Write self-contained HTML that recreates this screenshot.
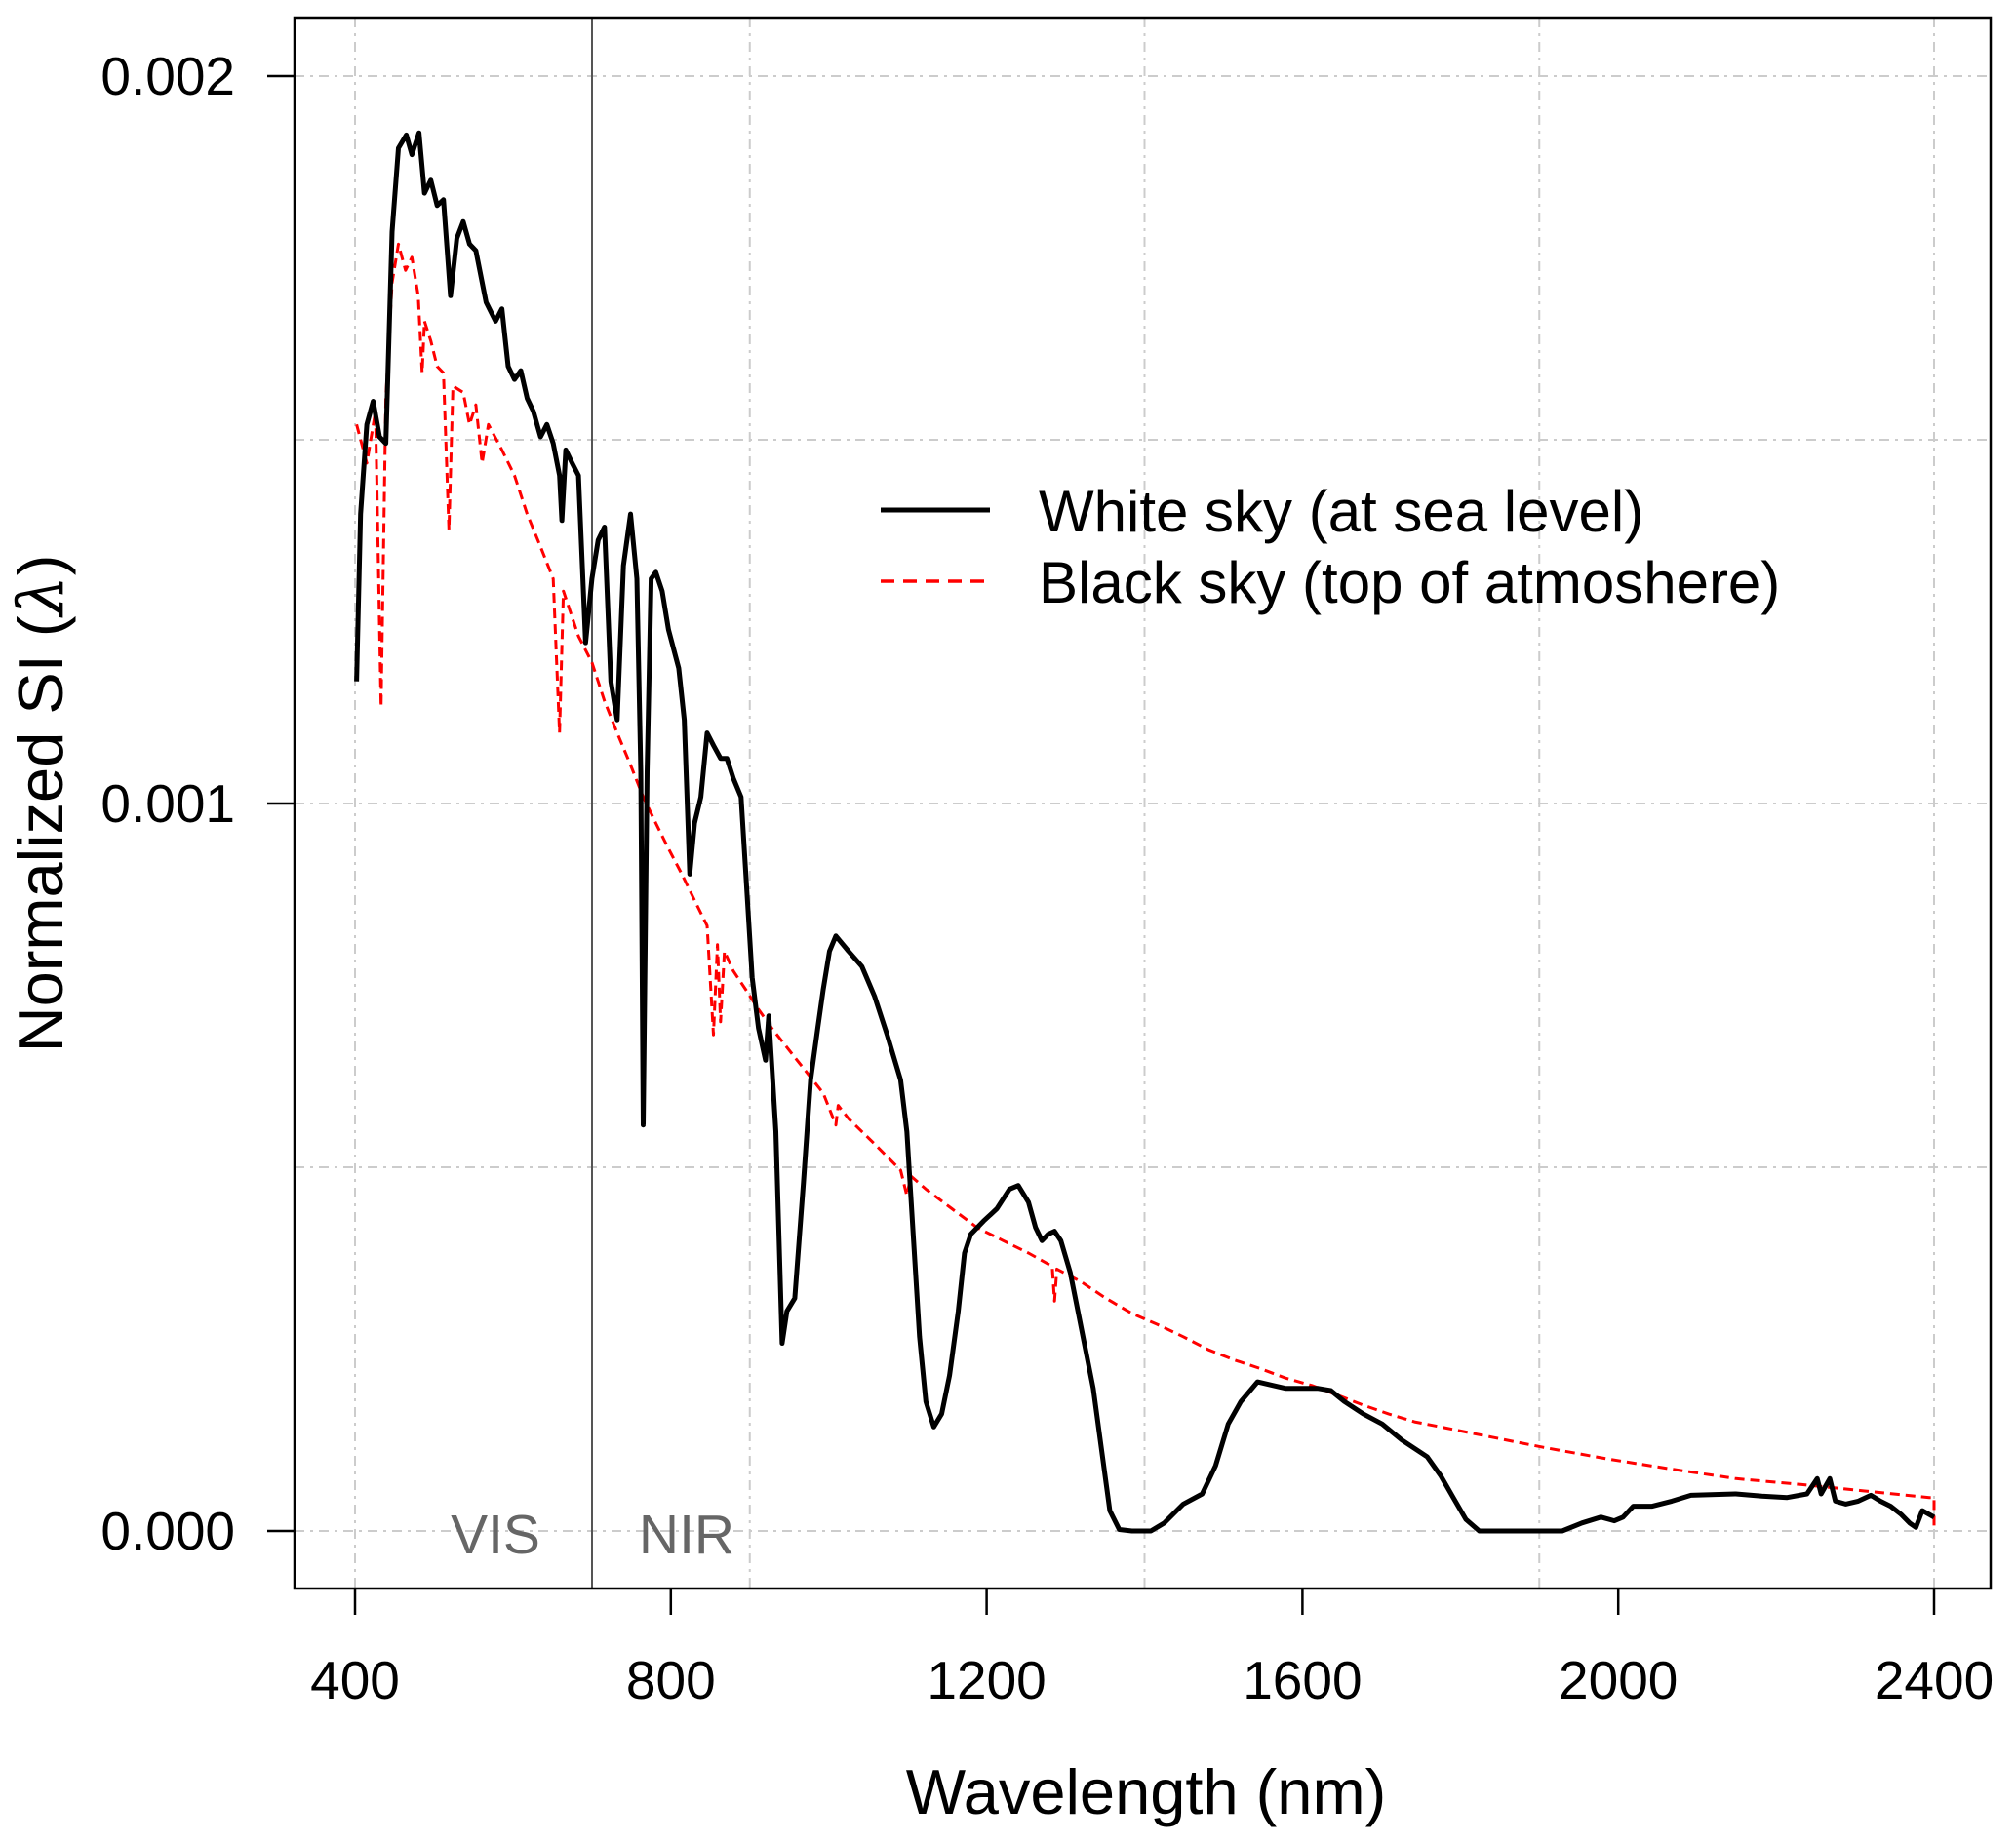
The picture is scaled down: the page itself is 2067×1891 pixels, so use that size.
<!DOCTYPE html>
<html><head><meta charset="utf-8"><style>
html,body{margin:0;padding:0;background:#fff;}
svg{display:block;font-family:"Liberation Sans",Arial,sans-serif;}
</style></head><body>
<svg id="chart" width="2067" height="1891" viewBox="0 0 2067 1891" xmlns="http://www.w3.org/2000/svg">
<rect width="2067" height="1891" fill="#fff"/>
<g id="grid"></g>
<line x1="607" y1="18" x2="607" y2="1629" stroke="#555" stroke-width="2"/>
<text x="508" y="1593" font-size="57" fill="#666" text-anchor="middle">VIS</text>
<text x="704" y="1593" font-size="57" fill="#666" text-anchor="middle">NIR</text>
<g id="series"></g>
<rect x="302" y="18" width="1739" height="1611" fill="none" stroke="#000" stroke-width="2.5"/>
<g id="axes"></g>
<text x="1175" y="1860" font-size="65" text-anchor="middle">Wavelength (nm)</text>
<text transform="translate(64,824) rotate(-90)" font-size="65" text-anchor="middle">Normalized SI (<tspan font-family="DejaVu Serif, serif" font-style="italic">λ</tspan>)</text>
<g>
<line x1="903" y1="523" x2="1015" y2="523" stroke="#000" stroke-width="5"/>
<text x="1065" y="545" font-size="60">White sky (at sea level)</text>
<line x1="903" y1="596" x2="1015" y2="596" stroke="#f00" stroke-width="3.5" stroke-dasharray="14,9"/>
<text x="1065" y="618" font-size="60">Black sky (top of atmoshere)</text>
</g>
</svg>
<script>
const xTicks=[400,800,1200,1600,2000,2400];
const yTicks=[0,0.001,0.002];
const yTickLabels=["0.000","0.001","0.002"];
const xGrid=[400,900,1400,1900,2400];
const yGrid=[0,0.0005,0.001,0.0015,0.002];
const whiteWl=[402,407,415,423,431,439,447,455,465,472,481,488,496,504,512,521,529,537,545,553,566,578,586,594,602,610,618,626,635,643,651,659,662,667,675,683,692,700,708,716,724,732,740,749,757,762,765,770,775,781,789,797,810,817,824,830,838,846,854,863,871,879,889,895,903,911,920,924,933,941,947,957,968,977,986,993,1001,1009,1025,1042,1058,1074,1091,1099,1107,1115,1123,1133,1143,1153,1164,1172,1180,1196,1213,1229,1240,1253,1262,1270,1278,1286,1294,1306,1319,1335,1346,1356,1368,1384,1408,1425,1449,1473,1490,1506,1522,1543,1563,1579,1620,1636,1653,1677,1701,1726,1758,1775,1791,1807,1824,1929,1954,1978,1995,2006,2019,2043,2068,2092,2149,2182,2214,2239,2252,2257,2268,2275,2288,2304,2320,2332,2345,2358,2369,2377,2385,2400];
const whiteVal=[1.168,1.398,1.521,1.553,1.504,1.495,1.786,1.901,1.919,1.892,1.922,1.839,1.857,1.822,1.830,1.698,1.777,1.800,1.769,1.760,1.689,1.663,1.680,1.601,1.583,1.595,1.557,1.539,1.504,1.521,1.495,1.451,1.389,1.486,1.468,1.451,1.221,1.309,1.362,1.380,1.168,1.115,1.327,1.398,1.309,1.044,0.558,1.044,1.309,1.318,1.292,1.239,1.186,1.115,0.903,0.973,1.009,1.097,1.080,1.062,1.062,1.035,1.009,0.903,0.761,0.691,0.647,0.708,0.549,0.258,0.302,0.320,0.479,0.620,0.691,0.744,0.797,0.818,0.797,0.776,0.735,0.682,0.620,0.549,0.408,0.267,0.178,0.143,0.161,0.214,0.302,0.382,0.408,0.426,0.443,0.470,0.475,0.452,0.417,0.399,0.408,0.412,0.399,0.355,0.284,0.196,0.108,0.028,0.002,0,0,0.011,0.037,0.051,0.090,0.147,0.178,0.205,0.200,0.196,0.196,0.193,0.178,0.161,0.147,0.125,0.102,0.076,0.046,0.016,0,0,0.011,0.019,0.014,0.019,0.034,0.034,0.041,0.049,0.051,0.048,0.046,0.051,0.072,0.051,0.072,0.041,0.037,0.041,0.049,0.041,0.034,0.023,0.011,0.005,0.028,0.019];
const blackWl=[402,415,426,433,439,447,455,464,472,480,485,488,496,504,512,519,524,537,545,553,561,569,586,602,618,635,651,659,664,683,700,716,732,749,765,781,797,814,830,846,854,859,863,868,879,895,911,928,960,993,1009,1012,1025,1058,1091,1099,1104,1123,1156,1188,1221,1253,1283,1286,1289,1319,1351,1384,1416,1449,1481,1514,1547,1579,1612,1644,1677,1709,1742,1775,1807,1840,1872,1905,1986,2068,2149,2231,2312,2394,2400,2400];
const blackVal=[1.521,1.468,1.539,1.133,1.557,1.716,1.769,1.733,1.751,1.698,1.592,1.663,1.636,1.601,1.592,1.376,1.574,1.565,1.521,1.548,1.468,1.521,1.486,1.451,1.398,1.353,1.309,1.097,1.292,1.230,1.194,1.141,1.097,1.053,1.009,0.973,0.938,0.903,0.867,0.832,0.682,0.806,0.700,0.797,0.770,0.744,0.717,0.691,0.647,0.602,0.558,0.585,0.567,0.532,0.496,0.461,0.488,0.470,0.443,0.417,0.399,0.382,0.364,0.316,0.360,0.343,0.320,0.299,0.284,0.267,0.249,0.235,0.223,0.210,0.200,0.187,0.173,0.161,0.150,0.143,0.136,0.129,0.122,0.115,0.099,0.085,0.072,0.064,0.055,0.046,0.046,0.0];
const VALUE_UNIT=0.001;
const NS="http://www.w3.org/2000/svg";
function px(w){return 364+(w-400)*(1619/2000);}
function py(v){return 1570-v/0.002*1492;}
function mk(tag,attrs,parent){const e=document.createElementNS(NS,tag);for(const k in attrs)e.setAttribute(k,attrs[k]);parent.appendChild(e);return e;}
const grid=document.getElementById('grid');
xGrid.forEach(w=>{const l=mk('line',{x1:px(w),x2:px(w),y1:18,y2:1629,stroke:'#ccc','stroke-width':2,'stroke-dasharray':'10,6,3,6'},grid);

});
yGrid.forEach(v=>{const l=mk('line',{x1:302,x2:2041,y1:py(v),y2:py(v),stroke:'#ccc','stroke-width':2,'stroke-dasharray':'10,6,3,6'},grid);

});
const axes=document.getElementById('axes');
xTicks.forEach(w=>{const t=mk('line',{x1:px(w),x2:px(w),y1:1629,y2:1656,stroke:'#000','stroke-width':2.5},axes);


const tx=mk('text',{x:px(w),y:1742,'font-size':55,'text-anchor':'middle'},axes);tx.textContent=w;

});
yTicks.forEach((v,i)=>{const t=mk('line',{x1:274,x2:302,y1:py(v),y2:py(v),stroke:'#000','stroke-width':2.5},axes);


const tx=mk('text',{x:241,y:py(v)+19,'font-size':55,'text-anchor':'end'},axes);tx.textContent=yTickLabels[i];

});
const series=document.getElementById('series');
function path(wl,val){return wl.map((w,i)=>(i?'L':'M')+px(w).toFixed(1)+','+py(val[i]*VALUE_UNIT).toFixed(1)).join(' ');}
const bp=mk('path',{d:path(blackWl,blackVal),fill:'none',stroke:'#f00','stroke-width':3,'stroke-dasharray':'10,6','stroke-linejoin':'round'},series);


const wp=mk('path',{d:path(whiteWl,whiteVal),fill:'none',stroke:'#000','stroke-width':5,'stroke-linejoin':'round'},series);


</script>
</body></html>
